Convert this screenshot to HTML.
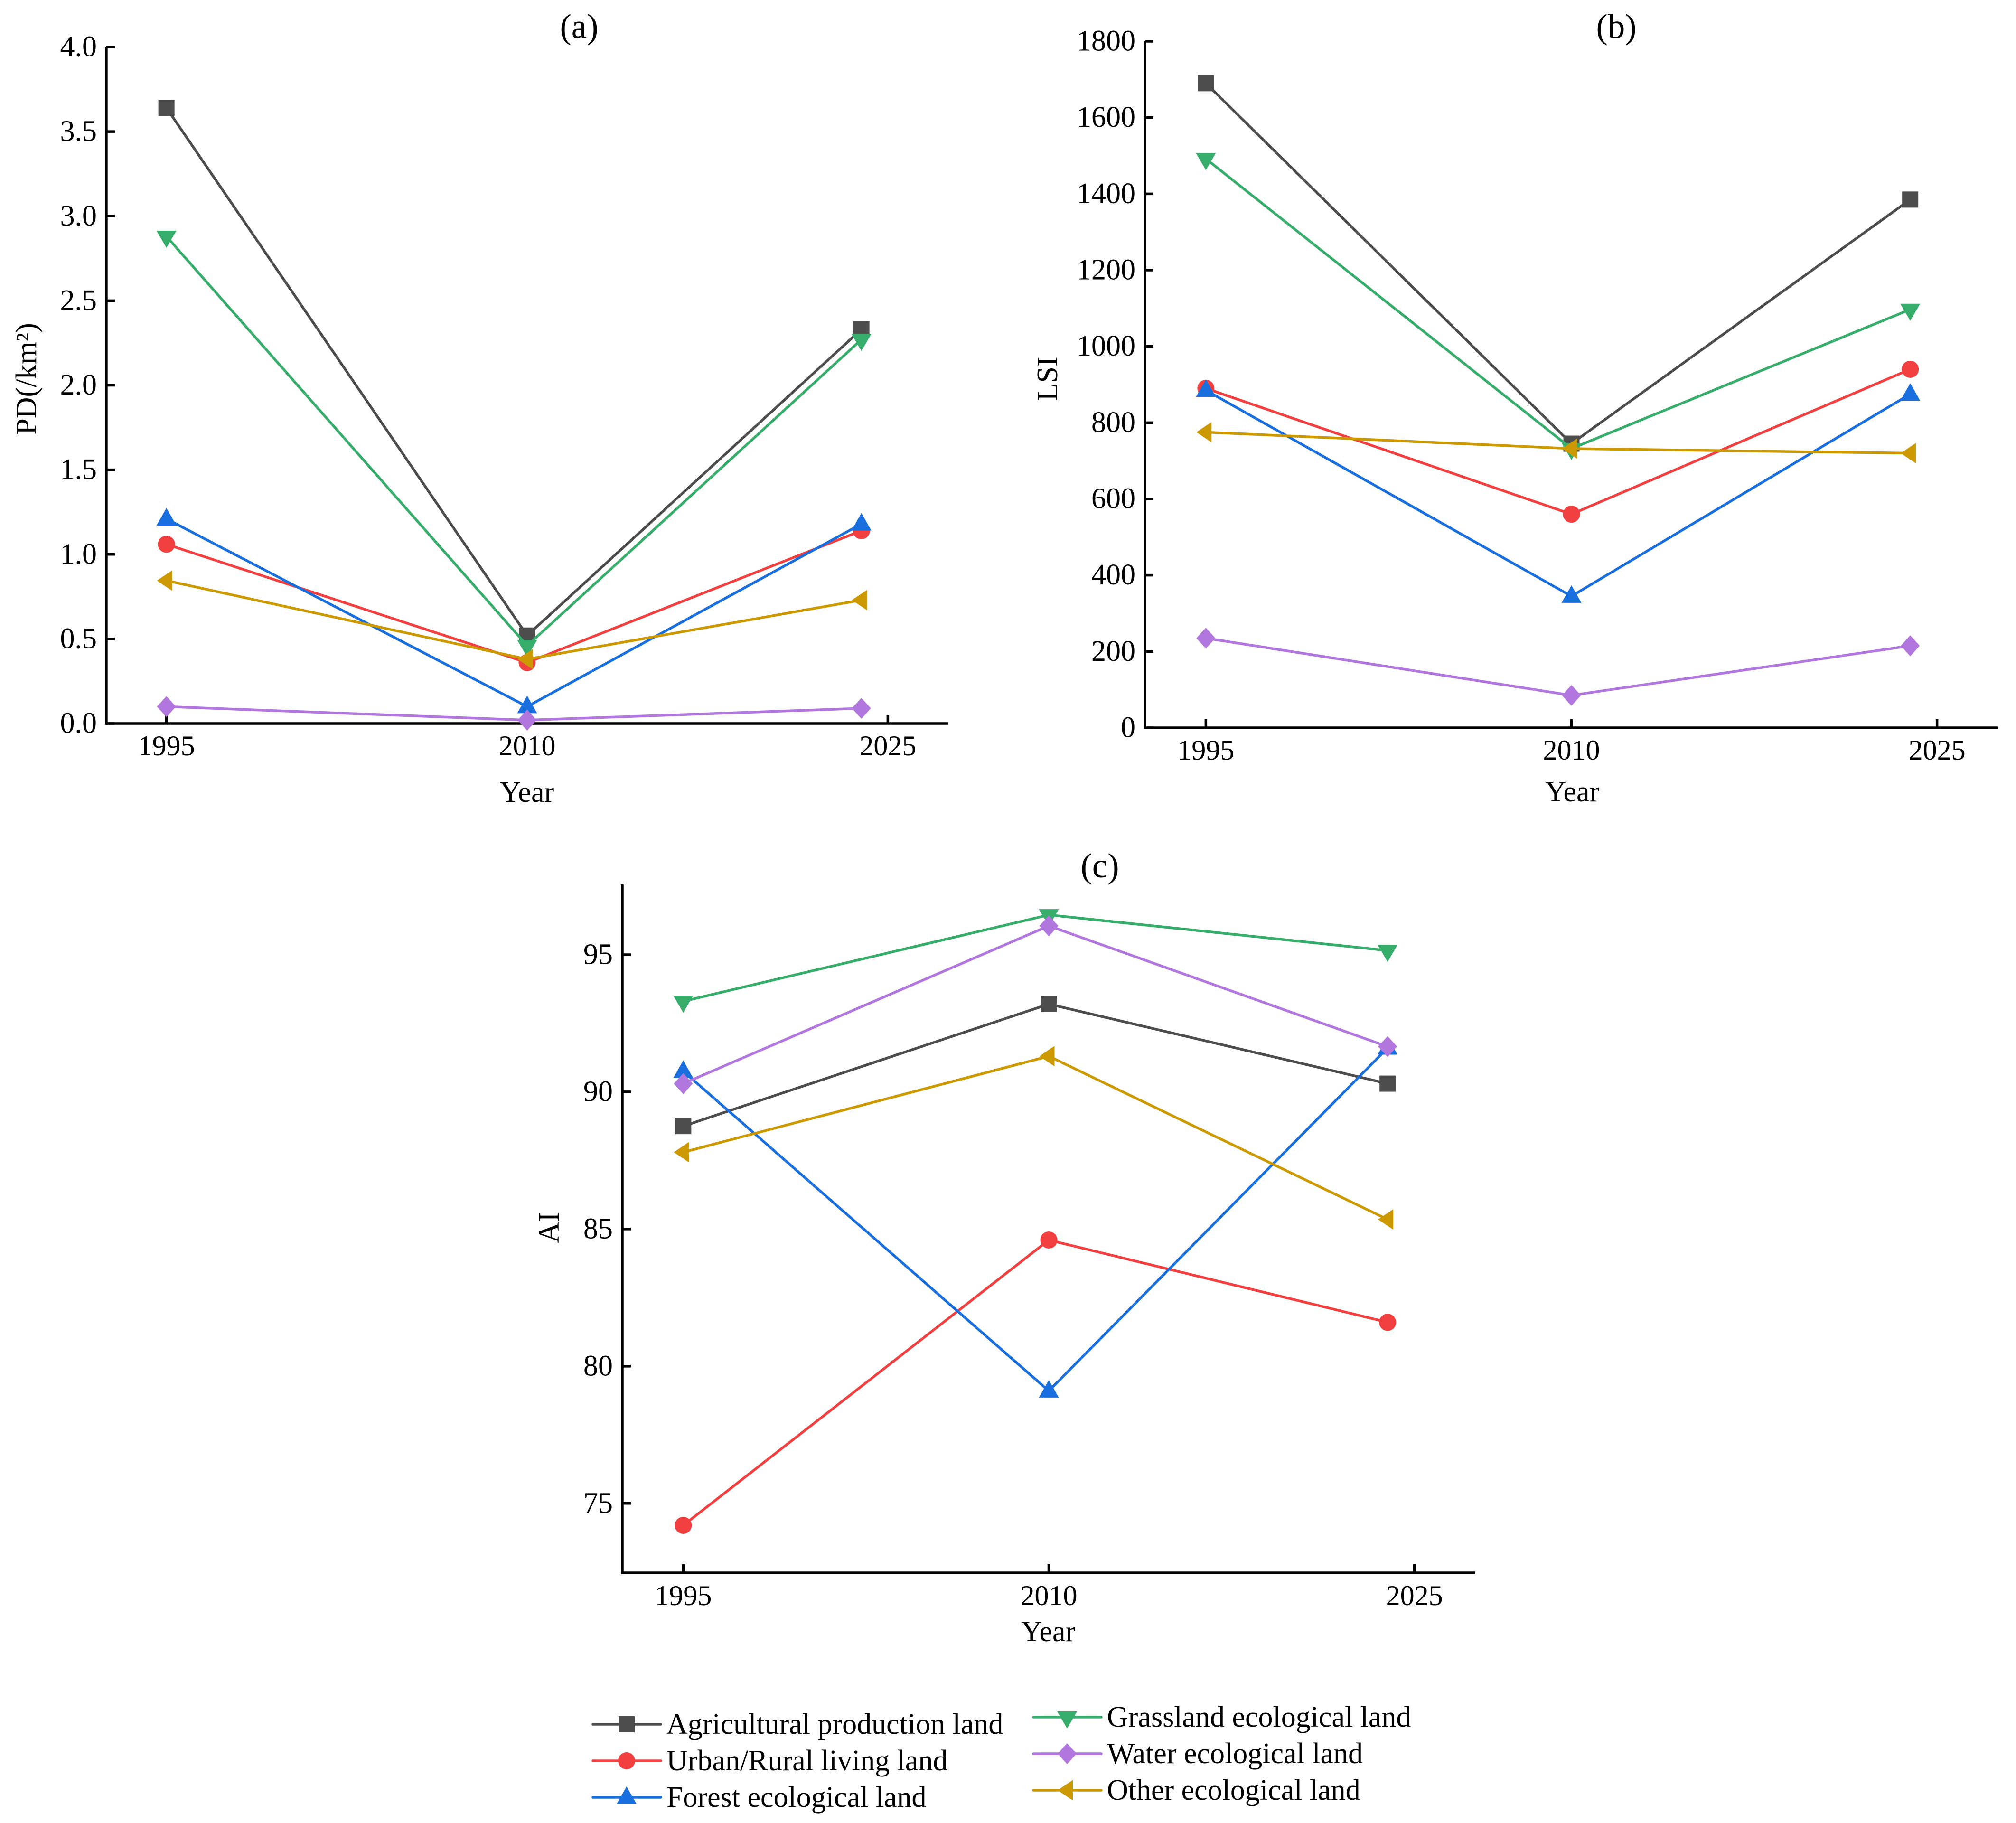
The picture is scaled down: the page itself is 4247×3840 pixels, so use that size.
<!DOCTYPE html>
<html lang="en">
<head>
<meta charset="utf-8">
<title>Landscape metrics by land type, 1995-2024</title>
<style>
html,body{margin:0;padding:0;background:#fff;width:4247px;height:3840px;overflow:hidden}
svg{display:block}
text{font-family:"Liberation Serif","Times New Roman",serif;fill:#000}
</style>
</head>
<body>
<svg id="figure" xmlns="http://www.w3.org/2000/svg" width="4247" height="3840" viewBox="0 0 4247 3840"></svg>
<script>
var years = [1995, 2010, 2023.9];
var xTickLabels = [1995, 2010, 2025];
var seriesNames = ['Agricultural production land', 'Urban/Rural living land', 'Forest ecological land', 'Grassland ecological land', 'Water ecological land', 'Other ecological land'];
var seriesKeys = ['agricultural', 'urban-rural', 'forest', 'grassland', 'water', 'other'];
var seriesColors = ['#4d4d4d', '#f24040', '#1a6fdf', '#37ad6b', '#b177de', '#cc9900'];
var seriesShapes = ['square', 'circle', 'up', 'down', 'diamond', 'left'];

var pdAgricultural = [3.64, 0.52, 2.33];
var pdUrban = [1.06, 0.36, 1.14];
var pdForest = [1.21, 0.10, 1.18];
var pdGrassland = [2.88, 0.46, 2.27];
var pdWater = [0.10, 0.02, 0.09];
var pdOther = [0.845, 0.38, 0.73];
var pdTicks = [0, 0.5, 1, 1.5, 2, 2.5, 3, 3.5, 4];
var pdTickLabels = ['0.0', '0.5', '1.0', '1.5', '2.0', '2.5', '3.0', '3.5', '4.0'];

var lsiAgricultural = [1690, 745, 1385];
var lsiUrban = [890, 560, 940];
var lsiForest = [885, 345, 875];
var lsiGrassland = [1492, 732, 1097];
var lsiWater = [235, 85, 215];
var lsiOther = [775, 732, 720];
var lsiTicks = [0, 200, 400, 600, 800, 1000, 1200, 1400, 1600, 1800];
var lsiTickLabels = ['0', '200', '400', '600', '800', '1000', '1200', '1400', '1600', '1800'];

var aiAgricultural = [88.75, 93.2, 90.3];
var aiUrban = [74.2, 84.6, 81.6];
var aiForest = [90.75, 79.1, 91.6];
var aiGrassland = [93.3, 96.45, 95.15];
var aiWater = [90.3, 96.05, 91.65];
var aiOther = [87.8, 91.3, 85.35];
var aiTicks = [75, 80, 85, 90, 95];
var aiTickLabels = ['75', '80', '85', '90', '95'];

var SVG_NS = 'http://www.w3.org/2000/svg';
var figure = document.getElementById('figure');

function make(tag, parent) {
  var el = document.createElementNS(SVG_NS, tag);
  parent.appendChild(el);
  return el;
}
function line(parent, x1, y1, x2, y2, color, width) {
  var el = make('line', parent);
  el.setAttribute('x1', x1);
  el.setAttribute('y1', y1);
  el.setAttribute('x2', x2);
  el.setAttribute('y2', y2);
  el.setAttribute('stroke', color);
  el.setAttribute('stroke-width', width);
  return el;
}
function label(parent, x, y, str, anchor, size) {
  var el = make('text', parent);
  el.setAttribute('x', x);
  el.setAttribute('y', y);
  el.setAttribute('text-anchor', anchor);
  el.setAttribute('font-size', size);
  el.textContent = str;
  return el;
}
function marker(parent, shape, cx, cy, color) {
  var el;
  if (shape === 'circle') {
    el = make('circle', parent);
    el.setAttribute('cx', cx);
    el.setAttribute('cy', cy);
    el.setAttribute('r', 18);
  } else if (shape === 'square') {
    el = make('rect', parent);
    el.setAttribute('x', cx - 17);
    el.setAttribute('y', cy - 17);
    el.setAttribute('width', 34);
    el.setAttribute('height', 34);
  } else {
    var p;
    if (shape === 'up') p = [[0, -23], [21, 14], [-21, 14]];
    if (shape === 'down') p = [[0, 24], [21, -12], [-21, -12]];
    if (shape === 'left') p = [[-20, 0], [12, -21.5], [12, 21.5]];
    if (shape === 'diamond') p = [[0, -22], [20, 0], [0, 22], [-20, 0]];
    el = make('polygon', parent);
    el.setAttribute('points', p.map(function (q) { return (cx + q[0]) + ',' + (cy + q[1]); }).join(' '));
  }
  el.setAttribute('fill', color);
  return el;
}

function drawPanel(id, geom, dom, ticks, tickLabels, series, text) {
  var g = make('g', figure);
  
  
  function xScale(v) { return geom.left + (v - dom.x0) / (dom.x1 - dom.x0) * (geom.right - geom.left); }
  function yScale(v) { return geom.bottom - (v - dom.y0) / (dom.y1 - dom.y0) * (geom.bottom - geom.top); }

  var yAxis = line(g, geom.left, geom.top, geom.left, geom.bottom + 2.75, '#000', 5.5);
  
  
  var xAxis = line(g, geom.left - 2.75, geom.bottom, geom.right, geom.bottom, '#000', 5.5);
  
  

  ticks.forEach(function (t, i) {
    var py = yScale(t);
    var tk = line(g, geom.left, py, geom.left + 18, py, '#000', 5.5);
    
    
    var tl = label(g, geom.left - 20, py + text.yTickDy, tickLabels[i], 'end', 62);
    
    
  });
  xTickLabels.forEach(function (t) {
    var px = xScale(t);
    var tk = line(g, px, geom.bottom, px, geom.bottom - 18, '#000', 5.5);
    
    
    var tl = label(g, px, text.xTickY, String(t), 'middle', 60);
    
    
  });

  series.forEach(function (vals, s) {
    var sg = make('g', g);
    
    
    var pl = make('polyline', sg);
    
    
    pl.setAttribute('fill', 'none');
    pl.setAttribute('stroke', seriesColors[s]);
    pl.setAttribute('stroke-width', 5.5);
    pl.setAttribute('points', vals.map(function (v, i) { return xScale(years[i]) + ',' + yScale(v); }).join(' '));
    vals.forEach(function (v, i) {
      var m = marker(sg, seriesShapes[s], xScale(years[i]), yScale(v), seriesColors[s]);
      
      
    });
  });

  var ttl = label(g, text.titleX, text.titleY, text.title, 'middle', 73);
  
  
  var xt = label(g, text.xTitleX, text.xTitleY, 'Year', 'middle', 62);
  
  
  var yt = label(g, 0, 0, text.yTitle, 'middle', 62);
  yt.setAttribute('transform', 'translate(' + text.yTitleX + ',' + text.yTitleY + ') rotate(-90)');
  
  
}

drawPanel('a',
  { left: 224, right: 1997, top: 99, bottom: 1524 },
  { x0: 1992.5, x1: 2027.5, y0: 0, y1: 4 },
  pdTicks, pdTickLabels,
  [pdAgricultural, pdUrban, pdForest, pdGrassland, pdWater, pdOther],
  { yTickDy: 19.5, xTickY: 1591, title: '(a)', titleX: 1220, titleY: 80, xTitleX: 1110, xTitleY: 1689, yTitle: 'PD(/km\u00B2)', yTitleX: 76, yTitleY: 798 });

drawPanel('b',
  { left: 2412, right: 4209, top: 87, bottom: 1533 },
  { x0: 1992.5, x1: 2027.5, y0: 0, y1: 1800 },
  lsiTicks, lsiTickLabels,
  [lsiAgricultural, lsiUrban, lsiForest, lsiGrassland, lsiWater, lsiOther],
  { yTickDy: 19.5, xTickY: 1600, title: '(b)', titleX: 3405, titleY: 80, xTitleX: 3312, xTitleY: 1688, yTitle: 'LSI', yTitleX: 2227, yTitleY: 798 });

drawPanel('c',
  { left: 1311, right: 3108, top: 1863, bottom: 3313 },
  { x0: 1992.5, x1: 2027.5, y0: 72.47, y1: 97.56 },
  aiTicks, aiTickLabels,
  [aiAgricultural, aiUrban, aiForest, aiGrassland, aiWater, aiOther],
  { yTickDy: 19.5, xTickY: 3381, title: '(c)', titleX: 2317, titleY: 1848, xTitleX: 2208, xTitleY: 3457, yTitle: 'AI', yTitleX: 1177, yTitleY: 2586 });

var legend = make('g', figure);


var legendCols = [0, 0, 0, 1, 1, 1];
var legendRows = [0, 1, 2, 0, 1, 2];
seriesNames.forEach(function (name, s) {
  var col = legendCols[s];
  var x0 = col === 0 ? 1249 : 2177;
  var y0 = (col === 0 ? 3632 : 3617) + legendRows[s] * 77;
  var entry = make('g', legend);
  
  
  var swatch = line(entry, x0, y0, x0 + 143, y0, seriesColors[s], 5.5);
  swatch.setAttribute('stroke-linecap', 'round');
  marker(entry, seriesShapes[s], x0 + 71, y0, seriesColors[s]);
  var t = label(entry, x0 + 155, y0 + 20, name, 'start', 62);
  
  
});
</script>
</body>
</html>
